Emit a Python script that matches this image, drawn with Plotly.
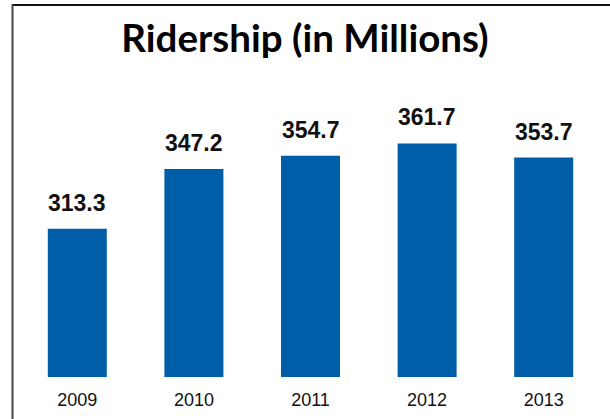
import plotly.graph_objects as go

# Annual ridership, millions of trips
years = ["2009", "2010", "2011", "2012", "2013"]
ridership = [313.3, 347.2, 354.7, 361.7, 353.7]

W, H = 610, 419
ml, mr, mt, mb = 19, 8, 90, 42
plot_w = W - ml - mr
plot_h = H - mt - mb

# value axis starts well above zero so the differences read clearly
y_min = 229.0
px_per_unit = 1.76
y_max = y_min + plot_h / px_per_unit

BAR_BLUE = "#005EA8"

fig = go.Figure()
fig.add_trace(go.Bar(
    x=years,
    y=ridership,
    marker=dict(color=BAR_BLUE, line=dict(width=0)),
    hoverinfo="skip",
))

# value labels above each bar (category axis: position by index)
for i, v in enumerate(ridership):
    fig.add_annotation(
        x=i, y=v, xref="x", yref="y",
        text=f"<b>{v:.1f}</b>",
        showarrow=False,
        yanchor="bottom",
        yshift=11,
        font=dict(family="Liberation Sans, Arial, sans-serif", size=23, color="#111111"),
    )

# frame: top and left rules
px_x = lambda p: (p - ml) / plot_w
px_y = lambda p: (H - mb - p) / plot_h
fig.add_shape(type="line", xref="paper", yref="paper",
              x0=px_x(12), x1=px_x(615), y0=px_y(5), y1=px_y(5),
              line=dict(color="#111111", width=2))
fig.add_shape(type="line", xref="paper", yref="paper",
              x0=px_x(12.5), x1=px_x(12.5), y0=px_y(4), y1=px_y(425),
              line=dict(color="#444444", width=2))

fig.update_layout(
    width=W, height=H,
    margin=dict(l=ml, r=mr, t=mt, b=mb, autoexpand=False),
    paper_bgcolor="white",
    plot_bgcolor="white",
    showlegend=False,
    bargap=0.494,
    title=dict(
        text="<b>Ridership (in Millions)</b>",
        x=0.5, xanchor="center",
        y=1 - 25 / H, yanchor="top",
        font=dict(family="Lato, sans-serif", size=38.5, color="#000000"),
    ),
    xaxis=dict(
        type="category",
        range=[-0.5, len(years) - 0.5],
        showgrid=False, zeroline=False, showline=False, ticks="",
        ticklabelstandoff=10,
        tickfont=dict(family="Liberation Sans, Arial, sans-serif", size=18, color="#111111"),
    ),
    yaxis=dict(
        range=[y_min, y_max],
        visible=False,
    ),
)

fig.write_html("out.html")
